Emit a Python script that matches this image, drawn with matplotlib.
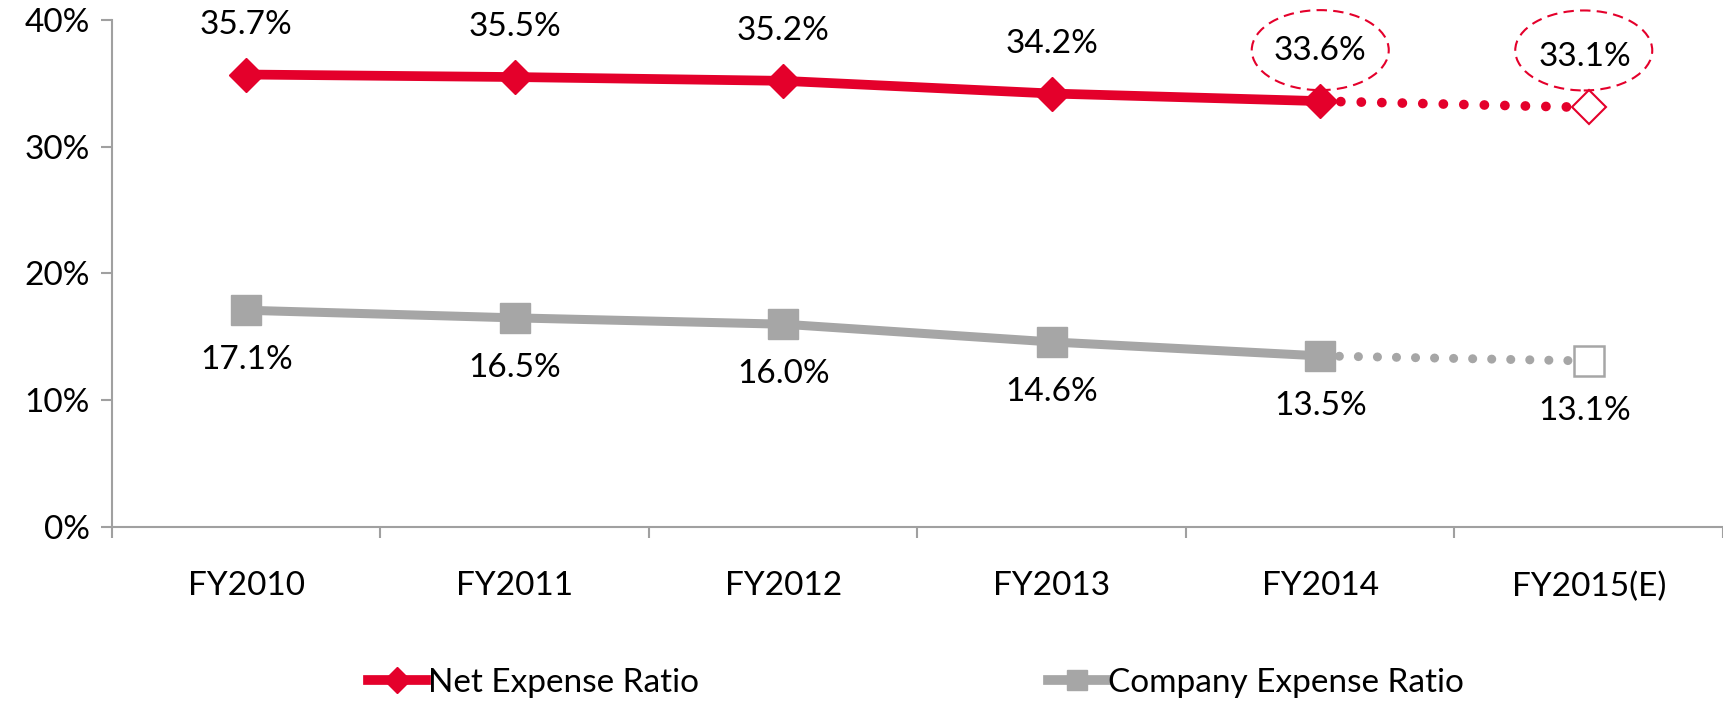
import matplotlib.pyplot as plt
import matplotlib.transforms as mtransforms
from matplotlib.lines import Line2D
from matplotlib.patches import Ellipse

plt.rcParams["font.family"] = ["Lato", "DejaVu Sans"]

YEARS = ["FY2010", "FY2011", "FY2012", "FY2013", "FY2014", "FY2015(E)"]
NET_RATIO = [35.7, 35.5, 35.2, 34.2, 33.6, 33.1]
COMPANY_RATIO = [17.1, 16.5, 16.0, 14.6, 13.5, 13.1]
Y_TICKS = [0, 10, 20, 30, 40]

RED = "#E4002B"
GRAY = "#A6A6A6"
AXIS_GRAY = "#A0A0A0"
FS = 24

fig = plt.figure(figsize=(17.23, 7.02), dpi=100)
ax = fig.add_axes([0.065, 0.2493, 0.935, 0.7222])

x = list(range(len(YEARS)))
n_actual = len(YEARS) - 1

# actual years: solid line with filled markers
ax.plot(x[:n_actual], NET_RATIO[:n_actual], color=RED, lw=7, marker="D",
        ms=17, solid_capstyle="butt", zorder=4)
ax.plot(x[:n_actual], COMPANY_RATIO[:n_actual], color=GRAY, lw=6.5, marker="s",
        ms=22, solid_capstyle="butt", zorder=4)

# estimate: round dotted line to open marker
dot_style = (0, (0.01, 2.1))
ax.plot(x[n_actual - 1:], NET_RATIO[n_actual - 1:], color=RED, lw=7,
        ls=dot_style, dash_capstyle="round", zorder=3)
ax.plot(x[n_actual - 1:], COMPANY_RATIO[n_actual - 1:], color=GRAY, lw=6.5,
        ls=dot_style, dash_capstyle="round", zorder=3)
ax.plot(x[-1], NET_RATIO[-1], marker="D", ms=17, mfc="white", mec=RED,
        mew=1.5, ls="none", zorder=5)
ax.plot(x[-1], COMPANY_RATIO[-1], marker="s", ms=21, mfc="white", mec=GRAY,
        mew=1.8, ls="none", zorder=5)

# data labels
for i, (n, c) in enumerate(zip(NET_RATIO, COMPANY_RATIO)):
    dx = -3 if i == len(YEARS) - 1 else 0
    ax.annotate(f"{n:.1f}%", (i, n), xytext=(dx, 36), textcoords="offset points",
                ha="center", va="center", fontsize=FS, color="black")
    ax.annotate(f"{c:.1f}%", (i, c), xytext=(dx, -36), textcoords="offset points",
                ha="center", va="center", fontsize=FS, color="black")

# dashed ellipses around the last two net labels
for i, dy, dx in [(4, 0.51, 0.0), (5, 0.57, -0.05)]:
    trans = fig.dpi_scale_trans + mtransforms.ScaledTranslation(i, NET_RATIO[i], ax.transData)
    ax.add_patch(Ellipse((dx, dy), 1.37, 0.80, transform=trans, fill=False,
                         ec=RED, lw=1.5, ls=(0, (5, 3)), zorder=6, clip_on=False))

ax.set_xlim(-0.5, len(YEARS) - 0.5)
ax.set_ylim(0, 40)
ax.set_yticks(Y_TICKS, [f"{v}%" for v in Y_TICKS], fontsize=FS)
ax.set_xticks(x, YEARS, fontsize=FS)
ax.set_xticks([i - 0.5 for i in range(len(YEARS) + 1)], minor=True)
ax.tick_params(axis="x", which="major", length=0, pad=32)
ax.tick_params(axis="x", which="minor", length=8, color=AXIS_GRAY, width=1.5)
ax.tick_params(axis="y", length=8, color=AXIS_GRAY, width=1.5, pad=8)
for side in ["top", "right"]:
    ax.spines[side].set_visible(False)
for side in ["left", "bottom"]:
    ax.spines[side].set_color(AXIS_GRAY)
    ax.spines[side].set_linewidth(1.5)

net_handle = Line2D([], [], color=RED, lw=7, marker="D", ms=13)
comp_handle = Line2D([], [], color=GRAY, lw=7, marker="s", ms=15)
fig.legend([net_handle], ["Net Expense Ratio"], loc="center left",
           bbox_to_anchor=(0.196, 0.027), frameon=False, fontsize=FS,
           handlelength=1.75, handletextpad=0.05)
fig.legend([comp_handle], ["Company Expense Ratio"], loc="center left",
           bbox_to_anchor=(0.591, 0.027), frameon=False, fontsize=FS,
           handlelength=1.75, handletextpad=0.05)

fig.savefig("out.png", dpi=100)
